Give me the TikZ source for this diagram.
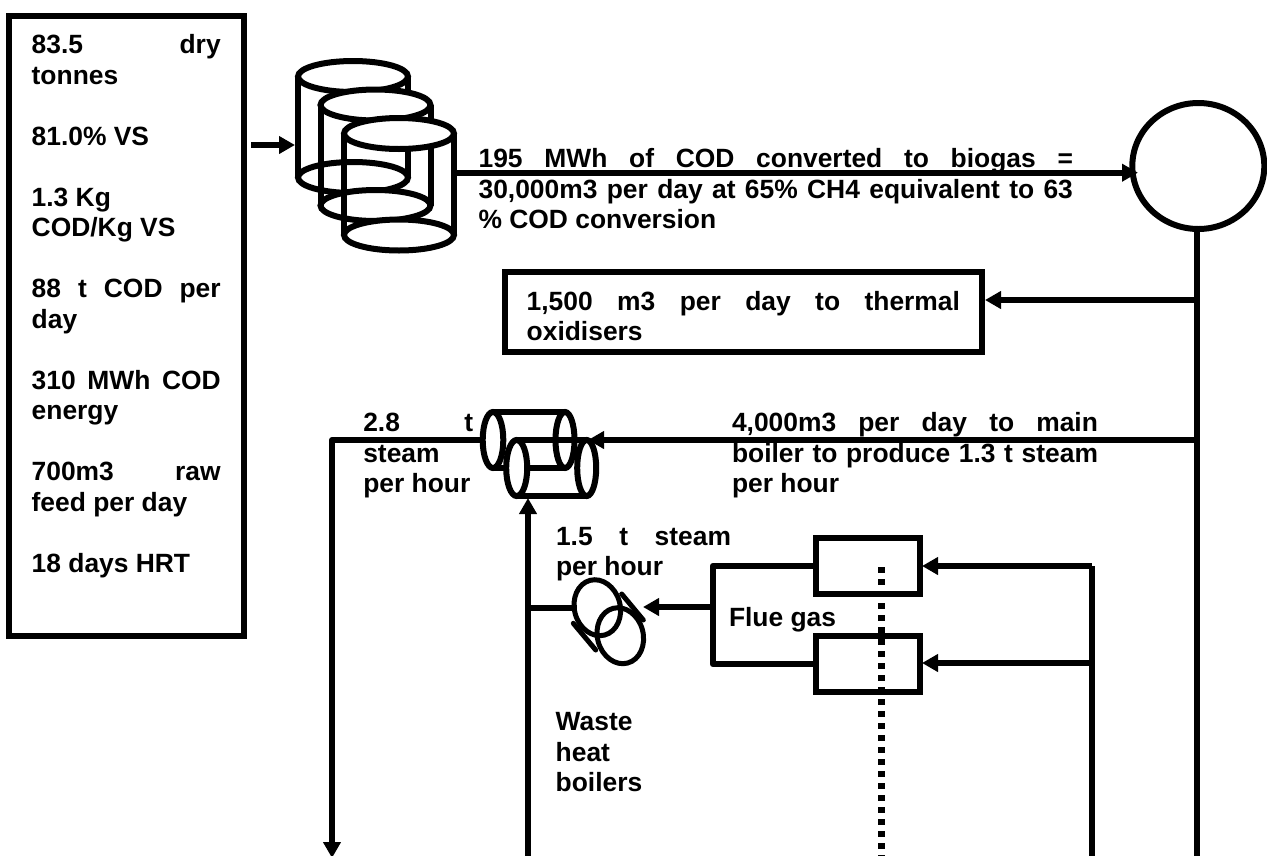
\documentclass[tikz,border=0pt]{standalone}
\usepackage{fontspec}
\setmainfont{Liberation Sans}
\usetikzlibrary{arrows.meta,shapes.geometric}
\newcommand{\jline}[2]{\makebox[#1][s]{#2}}
\tikzset{
  boxnode/.style={draw=black,line width=6pt,fill=white,inner sep=0pt},
  flow/.style={draw=black,line width=6pt},
  flowtip/.style={flow,-{Triangle[length=16pt,width=17pt]}},
  vessel/.style={draw=black,line width=6pt,fill=white},
  vesselline/.style={draw=black,line width=6pt,line cap=round},
  label/.style={anchor=base west,inner sep=0pt,outer sep=0pt,font=\fontsize{26.4}{30.5}\selectfont\bfseries},
  dotline/.style={draw=black,line width=6.5pt,dash pattern=on 6pt off 6pt}
}
\begin{document}
\begin{tikzpicture}[x=1pt,y=-1pt]
\useasboundingbox (0,0) rectangle (1267,855);
\fill[white] (0,0) rectangle (1267,855);

% --- boxes
\node[boxnode,minimum width=235pt,minimum height=620pt] (feed) at (126.5,326) {};
\node[boxnode,minimum width=476.7pt,minimum height=80.5pt] (oxid) at (743.3,312) {};
\node[boxnode,minimum width=104pt,minimum height=55.7pt] (burnA) at (868,565.8) {};
\node[boxnode,minimum width=104pt,minimum height=56pt] (burnB) at (868,664) {};
\node[draw=black,line width=6pt,ellipse,inner sep=0pt,minimum width=132pt,minimum height=126pt] (holder) at (1198.3,166) {};

% --- connector points
\coordinate (feedOut) at (251,145);
\coordinate (digIn) at (295,145);
\coordinate (digOut) at (456,172.7);
\coordinate (holderIn) at (1138,172.7);
\coordinate (holderBottom) at (1196.7,229);
\coordinate (mainEnd) at (1196.7,858);
\coordinate (teeOxid) at (1196.7,300);
\coordinate (oxidIn) at (985,300);
\coordinate (teeBoiler) at (1196.7,440);
\coordinate (boilerIn) at (588,440);
\coordinate (steamStart) at (482,440);
\coordinate (steamCorner) at (332,440);
\coordinate (steamEnd) at (332,858);
\coordinate (riserBottom) at (528,858);
\coordinate (riserTop) at (528,498);
\coordinate (riserTee) at (528,608);
\coordinate (wasteOut) at (577,608);
\coordinate (flueTee) at (712.7,607);
\coordinate (wasteIn) at (643,607);
\coordinate (flueTop) at (712.7,566);
\coordinate (flueBot) at (712.7,664);
\coordinate (burnAout) at (816,566);
\coordinate (burnBout) at (816,664);
\coordinate (burnAin) at (922,566);
\coordinate (burnBin) at (922,663);
\coordinate (gasTop) at (1092,566);
\coordinate (gasTee) at (1092,663);
\coordinate (gasEnd) at (1092,858);
\coordinate (dotTop) at (881.7,567);
\coordinate (dotEnd) at (881.7,858);

% --- connectors
\draw[flowtip] (feedOut) -- (digIn);
\draw[flow] (holderBottom) -- (mainEnd);
\draw[flowtip] (teeOxid) -- (oxidIn);
\draw[flowtip] (teeBoiler) -- (boilerIn);
\draw[flowtip,line join=round] (steamStart) -- (steamCorner) -- (steamEnd);
\draw[flowtip] (riserBottom) -- (riserTop);
\draw[flow] (riserTee) -- (wasteOut);
\draw[flowtip] (flueTee) -- (wasteIn);
\draw[flow,line join=round] (burnAout) -- (flueTop) -- (flueBot) -- (burnBout);
\draw[flowtip] (gasTop) -- (burnAin);
\draw[flowtip] (gasTee) -- (burnBin);
\draw[flow,line join=round] (gasTop) -- (gasEnd);
\draw[dotline] (dotTop) -- (dotEnd);
\draw[flowtip] (digOut) -- (holderIn);

% --- digesters (three overlapping vertical cylinders)
\foreach \cx/\ct/\cb in {353/76.5/177.5, 375.5/105/205.5, 399/133.5/235}{
  \draw[vessel] (\cx,\cb) ellipse [x radius=55pt,y radius=15.5pt];
  \draw[vesselline,line cap=butt] (\cx-55,\ct) -- (\cx-55,\cb);
  \draw[vesselline,line cap=butt] (\cx+55,\ct) -- (\cx+55,\cb);
  \draw[vessel] (\cx,\ct) ellipse [x radius=55pt,y radius=15.5pt];
}

% --- main boiler (two overlapping horizontal cylinders)
\draw[vesselline] (493,412) -- (565,412);
\draw[vesselline] (493,468) -- (565,468);
\draw[vessel] (493,440) ellipse [x radius=10.3pt,y radius=28pt];
\draw[vessel,fill=none] (565,440) ellipse [x radius=9.5pt,y radius=28pt];
\draw[vesselline] (516.7,439.5) -- (586.7,439.5);
\draw[vesselline] (516.7,496) -- (586.7,496);
\draw[vessel] (586.7,468) ellipse [x radius=9.5pt,y radius=28pt];
\draw[vessel] (516.7,468) ellipse [x radius=10.5pt,y radius=28pt];

% --- waste heat boiler (two overlapping tilted ellipses)
\draw[vessel,fill=none,line width=5pt,shift={(597.3,607.7)},rotate=15] (0,0) ellipse [x radius=22.9pt,y radius=28.3pt];
\draw[vessel,fill=none,line width=5pt,shift={(620.3,635.7)},rotate=15] (0,0) ellipse [x radius=22.9pt,y radius=28.3pt];
\draw[vesselline,line width=5pt] (621.7,594) -- (643.3,620);
\draw[vesselline,line width=5pt] (573.3,623.3) -- (595.7,650);

% --- labels
\node[label] (feedText) at (31.7,53.5) {\parbox[t]{189pt}{%
\jline{189pt}{83.5 dry}\\tonnes\\\mbox{}\\81.0\% VS\\\mbox{}\\1.3 Kg\\COD/Kg VS\\\mbox{}\\%
\jline{189pt}{88 t COD per}\\day\\\mbox{}\\\jline{189pt}{310 MWh COD}\\energy\\\mbox{}\\%
\jline{189pt}{700m3 raw}\\feed per day\\\mbox{}\\18 days HRT}};
\node[label] (biogasText) at (478.6,167.7) {\parbox[t]{594.4pt}{%
\jline{594.4pt}{195 MWh of COD converted to biogas =}\\%
\jline{594.4pt}{30,000m3 per day at 65\% CH4 equivalent to 63}\\\% COD conversion}};
\node[label] (oxidText) at (526.7,310) {\parbox[t]{433.3pt}{%
\jline{433.3pt}{1,500 m3 per day to thermal}\\oxidisers}};
\node[label] (boilerText) at (732,431.7) {\parbox[t]{366pt}{%
\jline{366pt}{4,000m3 per day to main}\\\jline{366pt}{boiler to produce 1.3 t steam}\\per hour}};
\node[label] (steamText) at (363.3,431.7) {\parbox[t]{110pt}{%
\jline{110pt}{2.8 t}\\steam\\per hour}};
\node[label] (wasteSteam) at (556,545) {\parbox[t]{175pt}{%
\jline{175pt}{1.5 t steam}\\per hour}};
\node[label] (flueText) at (729,626.7) {Flue gas};
\node[label] (wasteText) at (555.7,730.7) {\parbox[t]{120pt}{Waste\\heat\\boilers}};
\end{tikzpicture}
\end{document}
